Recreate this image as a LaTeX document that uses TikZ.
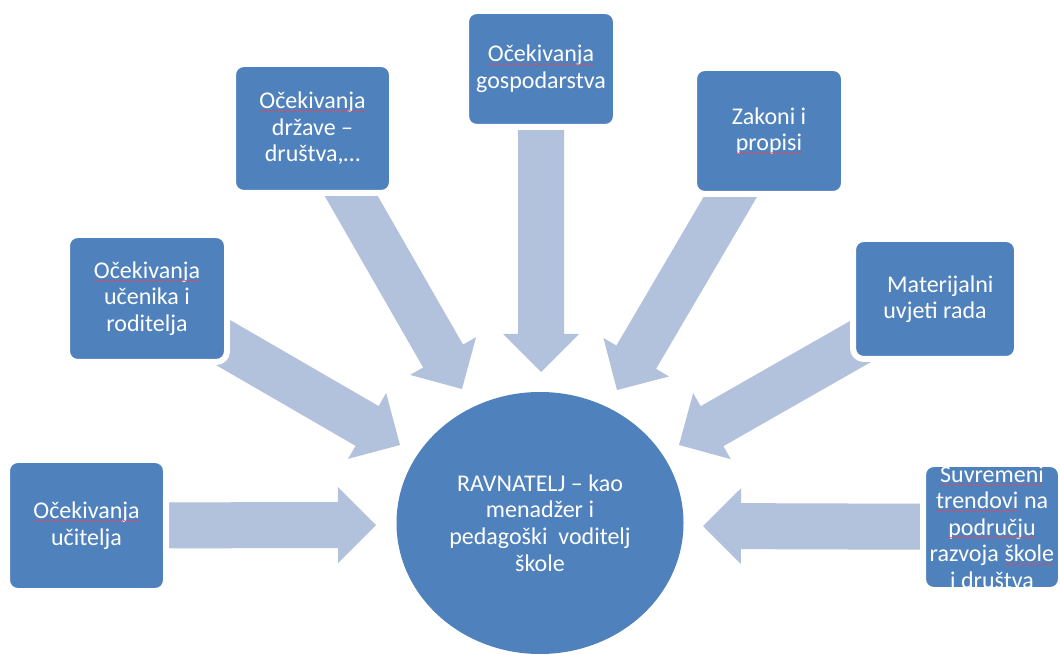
\documentclass[tikz,border=0pt]{standalone}
\usepackage{fontspec}
\setmainfont{Carlito}
\usetikzlibrary{calc,shapes.geometric,decorations.pathmorphing}
\pgfdeclarelayer{background}
\pgfsetlayers{background,main}
\definecolor{boxblue}{HTML}{4F81BD}
\definecolor{arrowblue}{HTML}{B2C1DC}
\definecolor{squig}{HTML}{D0506A}
\newcommand\sq[1]{\tikz[baseline=(sqw.base)]{\node[shape=rectangle,inner sep=0pt,outer sep=0pt,minimum width=0pt,minimum height=0pt,draw=none,fill=none,line width=0.4pt,sharp corners] (sqw) {#1};\draw[squig,line width=0.45pt,sharp corners,decorate,decoration={snake,amplitude=0.45pt,segment length=2.4pt}] ([yshift=-1.8pt]sqw.base west) -- ([yshift=-1.8pt]sqw.base east);}}
\newcommand\bigarrow[2]{%
  \coordinate (h#1) at ($(#2)!28.5pt!(#1.center)$);
  \fill[arrowfill]
    ($(#1.center)!17.25pt!90:(#2)$) --
    ($(h#1)!17.25pt!90:(#2)$) --
    ($(h#1)!28.5pt!90:(#2)$) --
    (#2) --
    ($(h#1)!28.5pt!-90:(#2)$) --
    ($(h#1)!17.25pt!-90:(#2)$) --
    ($(#1.center)!17.25pt!-90:(#2)$) -- cycle;}
\tikzset{
  txtfont/.style={font=\fontsize{18}{19.9}\selectfont},
  boxnode/.style={shape=rectangle, fill=boxblue, draw=white, line width=4.5pt,
    rounded corners=8pt, text=white, align=center, inner sep=0pt, txtfont},
  boxtext/.style={shape=rectangle, text=white, align=center, inner sep=0pt, txtfont},
  hub/.style={ellipse, fill=boxblue, draw=none, text=white, align=center,
    inner sep=0pt, minimum width=215.25pt, minimum height=196.5pt, txtfont},
  arrowfill/.style={fill=arrowblue, draw=none}
}
\begin{document}
\begin{tikzpicture}[x=0.75pt,y=-0.75pt]
\useasboundingbox (0,0) rectangle (1060,655);

\node[hub] (c) at (540,523) {RAVNATELJ -- kao\\menadžer i\\pedagoški\ \ voditelj\\škole};

\node[boxnode, minimum width=119.25pt, minimum height=98.25pt] (b1) at (86.5,525.5) {\sq{Očekivanja}\\učitelja};
\node[boxnode, minimum width=120pt, minimum height=95.25pt] (b2) at (147,298.5) {\sq{Očekivanja}\\učenika i\\roditelja};
\node[boxnode, minimum width=119.25pt, minimum height=96.75pt] (b3) at (312.5,128.5) {\sq{Očekivanja}\\države --\\društva,…};
\node[boxnode, minimum width=112.5pt, minimum height=87pt] (b4) at (541,69) {\sq{Očekivanja}\\gospodarstva};
\node[boxnode, minimum width=112.5pt, minimum height=94.5pt] (b5) at (769,131) {Zakoni i\\\sq{propisi}};
\node[boxnode, minimum width=123pt, minimum height=90pt] (b6) at (935,299) {\hspace*{8pt}Materijalni\\uvjeti rada};
\node[boxnode, minimum width=103.5pt, minimum height=94.5pt] (b7) at (992,527) {};
\node[boxtext] (b7t) at (b7.center) {\sq{Suvremeni}\\\sq{trendovi} na\\\sq{području}\\razvoja \sq{škole}\\i društva};

\coordinate (t1) at (376,525);
\coordinate (t2) at (400,445);
\coordinate (t3) at (462,389);
\coordinate (t4) at (541,372);
\coordinate (t5) at (617,390);
\coordinate (t6) at (679,445);
\coordinate (t7) at (703,526);

\begin{pgfonlayer}{background}
\fill[white] (0,0) rectangle (1060,655);
\bigarrow{b1}{t1}
\bigarrow{b2}{t2}
\bigarrow{b3}{t3}
\bigarrow{b4}{t4}
\bigarrow{b5}{t5}
\bigarrow{b6}{t6}
\bigarrow{b7}{t7}
\end{pgfonlayer}
\end{tikzpicture}
\end{document}
